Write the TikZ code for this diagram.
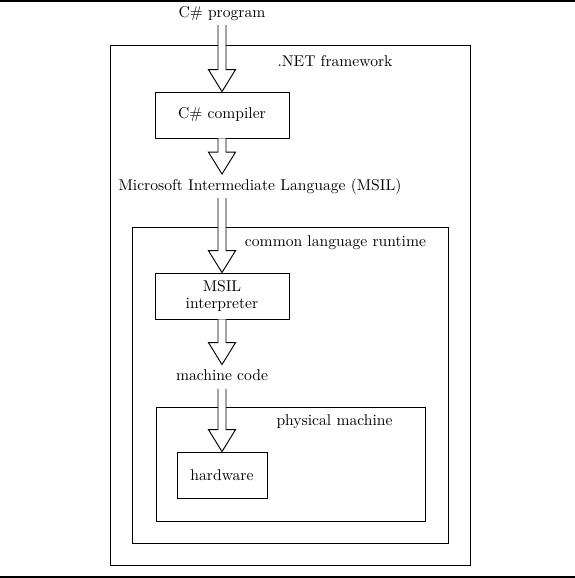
\documentclass[tikz,border=0pt]{standalone}
\usepackage[svgnames]{xcolor}
\usetikzlibrary{calc}
\tikzstyle{none}=[inner sep=0pt]
\tikzstyle{plain}=[anchor=base,inner sep=3pt,text height=7pt,text depth=2pt]
\tikzstyle{box}=[draw=Black,line width=0.6,minimum height=29.4pt,align=center]
\tikzstyle{frame}=[draw=Black,line width=0.6,inner sep=0pt]
\tikzstyle{rule}=[-,draw=Black,line width=1.3]
\tikzstyle{hollow}=[draw=Black,fill=White,line width=0.6,to path={let \p1=(\tikztostart), \p2=(\tikztotarget) in (\x2-2.56pt,\y1) -- (\x2-2.56pt,\y2+14pt) -- (\x2-8.64pt,\y2+14pt) -- (\x2,\y2) -- (\x2+8.64pt,\y2+14pt) -- (\x2+2.56pt,\y2+14pt) -- (\x2+2.56pt,\y1)}]

\begin{document}
\begin{tikzpicture}[x=0.64pt,y=-0.64pt]
  \useasboundingbox (0, 0) rectangle (575, 578);
  \node [style=plain] (0) at (222, 17) {C\# program};
  \node [style=frame,minimum width=230.4pt,minimum height=332.8pt] (1) at (290, 305) {};
  \node [style=plain] (2) at (335, 66) {.NET framework};
  \node [style=box,minimum width=85.8pt] (3) at (222, 115) {C\# compiler};
  \node [style=plain] (4) at (260, 190) {Microsoft Intermediate Language (MSIL)};
  \node [style=frame,minimum width=202.2pt,minimum height=202.2pt] (5) at (290, 385) {};
  \node [style=plain] (6) at (335.5, 246) {common language runtime};
  \node [style=box,minimum width=85.8pt] (7) at (222, 296) {MSIL\\[-1.5pt]interpreter};
  \node [style=plain] (8) at (222, 380.5) {machine code};
  \node [style=frame,minimum width=172.2pt,minimum height=73pt] (9) at (290.5, 464) {};
  \node [style=plain] (10) at (334.5, 425.5) {physical machine};
  \node [style=box,minimum width=57.6pt] (11) at (222, 475) {hardware};
  \draw [style=rule] (0, 1) to (575, 1);
  \draw [style=rule] (0, 577) to (575, 577);
  \draw [style=hollow] (0.south) to (3.north);
  \draw [style=hollow] (3.south) to (4.north -| 3.south);
  \draw [style=hollow] (4.south -| 7.north) to (7.north);
  \draw [style=hollow] (7.south) to (8.north);
  \draw [style=hollow] (8.south) to (11.north);
\end{tikzpicture}
\end{document}
